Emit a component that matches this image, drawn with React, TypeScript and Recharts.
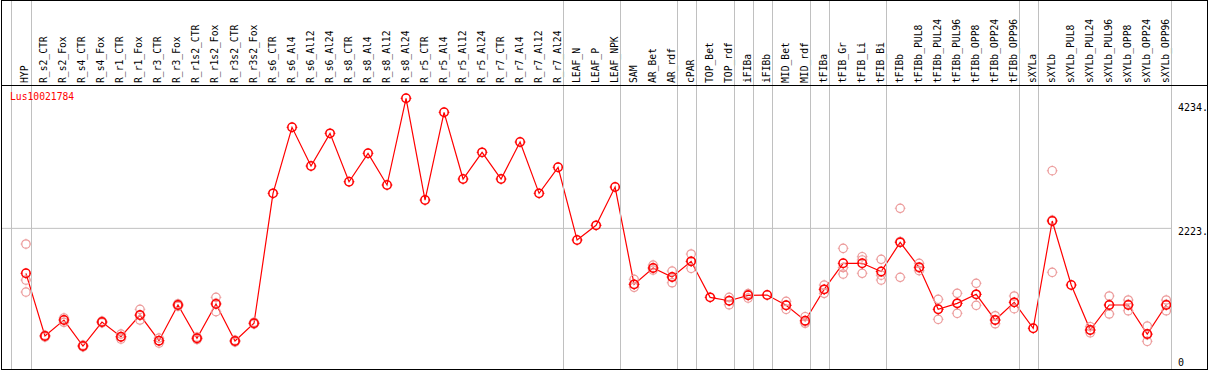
import React from "react";
import { ComposedChart, Line, XAxis, YAxis, ReferenceLine } from "recharts";

const W = 1209;
const H = 370;

const categories = [
  "HYP", "R_s2_CTR", "R_s2_Fox", "R_s4_CTR", "R_s4_Fox", "R_r1_CTR", "R_r1_Fox", "R_r3_CTR", "R_r3_Fox",
  "R_r1s2_CTR", "R_r1s2_Fox", "R_r3s2_CTR", "R_r3s2_Fox", "R_s6_CTR", "R_s6_Al4", "R_s6_Al12", "R_s6_Al24",
  "R_s8_CTR", "R_s8_Al4", "R_s8_Al12", "R_s8_Al24", "R_r5_CTR", "R_r5_Al4", "R_r5_Al12", "R_r5_Al24",
  "R_r7_CTR", "R_r7_Al4", "R_r7_Al12", "R_r7_Al24", "LEAF_N", "LEAF_P", "LEAF_NPK", "SAM", "AR_Bet", "AR_rdf",
  "cPAR", "TOP_Bet", "TOP_rdf", "iFIBa", "iFIBb", "MID_Bet", "MID_rdf", "tFIBa", "tFIB_Gr", "tFIB_Li", "tFIB_Bi",
  "tFIBb", "tFIBb_PUL8", "tFIBb_PUL24", "tFIBb_PUL96", "tFIBb_OPP8", "tFIBb_OPP24", "tFIBb_OPP96", "sXYLa",
  "sXYLb", "sXYLb_PUL8", "sXYLb_PUL24", "sXYLb_PUL96", "sXYLb_OPP8", "sXYLb_OPP24", "sXYLb_OPP96",
];

const meanValues = [
  1494, 477, 736, 315, 704, 465, 817, 401, 980, 440,
  996, 396, 683, 2791, 3862, 3234, 3764, 2979, 3440, 2926,
  4332, 2682, 4105, 3023, 3456, 3023, 3623, 2791, 3213, 2034,
  2272, 2893, 1315, 1580, 1434, 1688, 1104, 1049, 1137, 1142,
  975, 725, 1234, 1656, 1656, 1523, 1996, 1591, 910, 1007,
  1153, 736, 1023, 602, 2342, 1304, 574, 980, 980, 509, 980,
];

const N = null;
const rep1 = [
  1969, 460, 700, 300, 690, 428, 736, 363, 960, 420, 871, 380, 670,
  N, N, N, N, N, N, N, N, N, N, N, N, N, N, N, N, N, N, N,
  1267, 1547, 1341, 1575, N, 984, 1093, N, 910, 683, 1169, 1482, 1494, 1385, 1429, 1536,
  748, 845, 975, 676, 920, N, 1510, N, 530, 834, 887, 391, 887,
];
const rep2 = [
  1385, 480, 740, 315, 704, 460, 810, 400, 980, 440, 1010, 396, 683,
  N, N, N, N, N, N, N, N, N, N, N, N, N, N, N, N, N, N, N,
  1315, 1580, 1434, 1688, N, 1049, 1150, N, 975, 705, 1230, 1587, 1711, 1463, 2011, 1580,
  910, 1007, 1153, 736, 1023, N, 2358, N, 574, 980, 992, 497, 992,
];
const rep3 = [
  1190, 490, 770, 330, 720, 509, 910, 444, 1000, 460, 1104, 410, 700,
  N, N, N, N, N, N, N, N, N, N, N, N, N, N, N, N, N, N, N,
  1396, 1628, 1531, 1807, N, 1104, 1166, N, 1040, 790, 1304, 1899, 1763, 1721, 2548, 1656,
  1072, 1169, 1332, 806, 1126, N, 3158, N, 628, 1126, 1061, 639, 1061,
];

const geneLabel = "Lus10021784";
const separatorsAfter = [0, 28, 31, 34, 35, 37, 38, 39, 41, 42, 45, 52, 53, 60];
const leftSeparator = -0.8;
const yTicks = [0, 2223, 4234];
const yTickLabels = ["0", "2223.", "4234."];
const gridValue = 2223;

const data = categories.map((name, i) => ({
  idx: i,
  name,
  mean: meanValues[i],
  r1: rep1[i],
  r2: rep2[i],
  r3: rep3[i],
}));

const xTicks = [
  leftSeparator,
  ...categories.map((_, i) => i),
  ...separatorsAfter.map((i) => i + 0.25),
].sort((a, b) => a - b);

const MONO = "'DejaVu Sans Mono', monospace";
const GRID = "#c0c0c0";

const XTick = (props: any) => {
  const { x, y, payload } = props;
  const v = payload.value;
  if (Number.isInteger(v)) {
    return (
      <text
        transform={`translate(${x + 2.5},${y}) rotate(-90)`}
        fontFamily={MONO}
        fontSize={9.7}
        fill="#000"
        textAnchor="start"
      >
        {categories[v]}
      </text>
    );
  }
  const lx = Math.round(x) + 0.5;
  return <line x1={lx} x2={lx} y1={0} y2={H - 1} stroke={GRID} strokeWidth={1} />;
};

const YTick = (props: any) => {
  const { x, y, payload } = props;
  const k = yTicks.indexOf(payload.value);
  return (
    <text
      x={x}
      y={Math.min(y + 3.5, H - 8)}
      dominantBaseline="central"
      fontFamily={MONO}
      fontSize={10}
      fill="#000"
      textAnchor="start"
    >
      {yTickLabels[k]}
    </text>
  );
};

const Spikes = ({ cx, cy, r, color, w }: any) => (
  <g stroke={color} strokeWidth={w}>
    <line x1={cx} x2={cx} y1={cy - r - 1.2} y2={cy - r + 0.5} />
    <line x1={cx} x2={cx} y1={cy + r - 0.5} y2={cy + r + 1.2} />
    <line x1={cx - r - 1.2} x2={cx - r + 0.5} y1={cy} y2={cy} />
    <line x1={cx + r - 0.5} x2={cx + r + 1.2} y1={cy} y2={cy} />
  </g>
);

const MeanDot = (props: any) => {
  const { cx, cy, index } = props;
  if (cx == null || cy == null) return <g key={`m${index}`} />;
  return (
    <g key={`m${index}`}>
      <circle cx={cx} cy={cy} r={4.2} fill="none" stroke="#ff0000" strokeWidth={1.5} />
      <Spikes cx={cx} cy={cy} r={4.2} color="#ff0000" w={1} />
    </g>
  );
};

const RepDot = (props: any) => {
  const { cx, cy, index, value } = props;
  if (cx == null || cy == null || value == null) return <g key={`r${index}`} />;
  return (
    <g key={`r${index}`}>
      <circle cx={cx} cy={cy} r={4.2} fill="none" stroke="#ec9a9a" strokeWidth={1.2} />
      <Spikes cx={cx} cy={cy} r={4.2} color="#ec9a9a" w={0.8} />
    </g>
  );
};

export default function App() {
  return (
    <div style={{ position: "relative", width: W, height: H, background: "#fff" }}>
      <style>{"body{margin:0}"}</style>
      <ComposedChart
        width={W}
        height={H}
        data={data}
        margin={{ top: 0, right: 0, left: 2, bottom: 1 }}
      >
        <XAxis
          dataKey="idx"
          type="number"
          orientation="top"
          domain={[-1.26, 60.25]}
          allowDataOverflow
          height={85}
          ticks={xTicks}
          interval={0}
          tick={<XTick />}
          tickLine={false}
          axisLine={false}
          tickSize={0}
          tickMargin={2}
        />
        <YAxis
          orientation="right"
          type="number"
          domain={[-58, 4548]}
          allowDataOverflow
          ticks={yTicks}
          interval={0}
          width={38}
          tick={<YTick />}
          tickLine={false}
          axisLine={false}
          tickSize={0}
          tickMargin={7}
        />
        <ReferenceLine y={gridValue} stroke={GRID} strokeWidth={1} />
        <Line dataKey="r1" stroke="none" dot={RepDot} activeDot={false} isAnimationActive={false} legendType="none" />
        <Line dataKey="r2" stroke="none" dot={RepDot} activeDot={false} isAnimationActive={false} legendType="none" />
        <Line dataKey="r3" stroke="none" dot={RepDot} activeDot={false} isAnimationActive={false} legendType="none" />
        <Line
          dataKey="mean"
          stroke="#ff0000"
          strokeWidth={1.2}
          dot={MeanDot}
          activeDot={false}
          isAnimationActive={false}
          legendType="none"
        />
      </ComposedChart>
      <div
        style={{
          position: "absolute",
          left: 10,
          top: 90,
          fontFamily: MONO,
          fontSize: 9.7,
          lineHeight: "14px",
          color: "#ff0000",
          pointerEvents: "none",
        }}
      >
        {geneLabel}
      </div>
      <div
        style={{
          position: "absolute",
          left: 1,
          top: 85,
          width: 1207,
          height: 1,
          background: "#000",
          pointerEvents: "none",
        }}
      />
      <div
        style={{
          position: "absolute",
          left: 1,
          top: 0,
          width: 1207,
          height: H,
          border: "1px solid #000",
          boxSizing: "border-box",
          pointerEvents: "none",
        }}
      />
    </div>
  );
}
